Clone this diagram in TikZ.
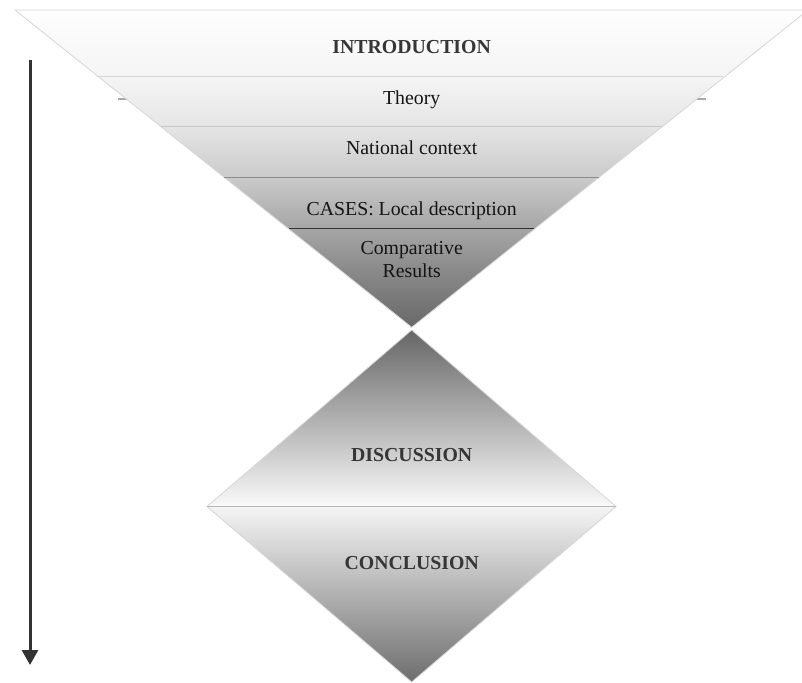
\documentclass[tikz,border=0pt]{standalone}
\usepackage{fontspec}
\setmainfont{Liberation Serif}
\usetikzlibrary{arrows.meta}
\definecolor{edgegray}{HTML}{D6D6D6}
\definecolor{stubgray}{HTML}{A8A8A8}
\definecolor{inkgray}{HTML}{363636}
\definecolor{arrowgray}{HTML}{333333}
% funnel fill: light through the upper bands, darkening toward the tip
% (path box maps to 25bp..75bp, 75bp = top)
\pgfdeclareverticalshading{funnelfill}{100bp}{%
  color(0bp)=(black!59);
  color(25bp)=(black!59);
  color(34bp)=(black!46);
  color(40.6bp)=(black!35);
  color(48.5bp)=(black!21);
  color(56.7bp)=(black!10);
  color(64.6bp)=(black!4);
  color(75bp)=(black!0.5);
  color(100bp)=(black!0.5)}
\begin{document}
\begin{tikzpicture}[x=1pt,y=-1pt,
  txt/.style={inner sep=0pt, anchor=base, text=black!92,
    font=\fontsize{19.8}{23.4}\selectfont},
  heading/.style={txt, text=inkgray, font=\fontsize{19.8}{23.4}\selectfont\bfseries},
  bandline/.style={line width=1.4pt, draw=edgegray},
  outline/.style={draw=edgegray, line width=0.8pt},
  flow/.style={line width=3pt, draw=arrowgray, -{Triangle[width=16pt,length=15pt]}}]
\useasboundingbox (0,0) rectangle (802,682);

% faint rule peeking out behind the funnel
\draw[line width=1.2pt, draw=stubgray] (118,99) -- (706,99);

% funnel (inverted triangle)
\shade[shading=funnelfill] (15,10) -- (808,10) -- (411.7,327.3) -- cycle;
\draw[outline] (15,10) -- (808,10) -- (411.7,327.3) -- cycle;

% band separators
\draw[bandline] (97,76.5) -- (723,76.5);
\draw[bandline, draw=black!22] (161,126.7) -- (662,126.7);
\draw[line width=1.2pt, draw=black!45] (224,177.8) -- (599,177.8);
\draw[line width=1.5pt, draw=arrowgray] (289,228.6) -- (534,228.6);

% diamond: upper and lower halves
\shade[top color=black!60, bottom color=white!98!black]
  (411.7,330) -- (616,506.5) -- (207,506.5) -- cycle;
\shade[top color=white!96!black, bottom color=black!57]
  (207,506.5) -- (616,506.5) -- (411.7,682) -- cycle;
\draw[outline] (411.7,330) -- (616,506.5) -- (411.7,682) -- (207,506.5) -- cycle;
\draw[line width=1.5pt, draw=black!28] (207,506.5) -- (616,506.5);

% labels
\node[heading] (intro) at (411.7,53.5) {INTRODUCTION};
\node[txt] (theory) at (411.7,104) {Theory};
\node[txt] (national) at (411.7,154.3) {National context};
\node[txt] (cases) at (411.7,215.7) {CASES: Local description};
\node[txt, anchor=center, align=center] (results) at (411.7,259.5) {Comparative\\Results};
\node[heading] (discussion) at (411.7,461.7) {DISCUSSION};
\node[heading] (conclusion) at (411.7,569) {CONCLUSION};

% reading direction arrow
\coordinate (flowstart) at (30,60);
\coordinate (flowend) at (30,665);
\draw[flow] (flowstart) -- (flowend);
\end{tikzpicture}
\end{document}
